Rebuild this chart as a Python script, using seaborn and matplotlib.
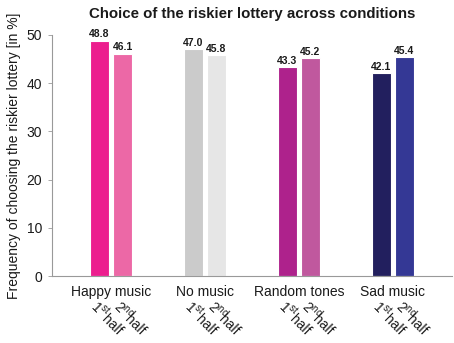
import matplotlib
matplotlib.use('Agg')
import matplotlib.pyplot as plt
import seaborn as sns
import pandas as pd

# data
conditions = ['Happy music', 'No music', 'Random tones', 'Sad music']
halves = ['1st', '2nd']
first_half = [48.8, 47.0, 43.3, 42.1]
second_half = [46.1, 45.8, 45.2, 45.4]
colors_first = ['#EC1E8E', '#CBCBCB', '#AE228C', '#221F5E']
colors_second = ['#EC68A6', '#E6E6E6', '#C0589E', '#343895']
half_labels = [('1$^{st}$', 'half'), ('2$^{nd}$', 'half')]

df = pd.DataFrame({
    'condition': conditions * 2,
    'half': [halves[0]] * 4 + [halves[1]] * 4,
    'value': first_half + second_half,
})

sns.set_theme(style='white')
plt.rcParams['font.family'] = ['Liberation Sans', 'DejaVu Sans']
plt.rcParams['mathtext.default'] = 'regular'
for key in ['text.color', 'axes.labelcolor', 'xtick.color', 'ytick.color']:
    plt.rcParams[key] = '#1a1a1a'

fig = plt.figure(figsize=(4.54, 3.43), dpi=100)
ax = fig.add_axes([0.1145, 0.195, 0.881, 0.703])

sns.barplot(data=df, x='condition', y='value', hue='half', order=conditions,
            hue_order=halves, width=0.49, gap=0.16, legend=False,
            edgecolor='white', linewidth=0.8, errorbar=None, ax=ax)

for container, cols in zip(ax.containers, [colors_first, colors_second]):
    for bar, c in zip(container, cols):
        bar.set_facecolor(c)
    ax.bar_label(container, fmt='%.1f', padding=1, fontsize=7.5,
                 fontweight='bold', clip_on=False)

ax.set_xlim(-0.628, 3.628)
ax.set_ylim(0, 50)
ax.set_yticks([0, 10, 20, 30, 40, 50])
ax.tick_params(axis='y', left=True, length=3, width=0.6, color='#999999',
               labelsize=10, pad=4)
ax.tick_params(axis='x', bottom=False, labelsize=10, pad=0.5)
ax.set_xlabel('')
ax.set_ylabel('Frequency of choosing the riskier lottery [in %]', fontsize=10)
for side in ['top', 'right']:
    ax.spines[side].set_visible(False)
for side in ['left', 'bottom']:
    ax.spines[side].set_color('#999999')
    ax.spines[side].set_linewidth(0.8)

# rotated "1st half" / "2nd half" labels under each bar
for container, (top, bottom) in zip(ax.containers, half_labels):
    for bar in container:
        xc = bar.get_x() + bar.get_width() / 2
        ax.annotate(top, xy=(xc, 0), xycoords=('data', 'axes fraction'),
                    xytext=(0.5, -15), textcoords='offset points',
                    rotation=-45, rotation_mode='anchor', ha='left', va='top',
                    fontsize=10, annotation_clip=False)
        ax.annotate(bottom, xy=(xc, 0), xycoords=('data', 'axes fraction'),
                    xytext=(6.5, -26), textcoords='offset points',
                    rotation=-45, rotation_mode='anchor', ha='left', va='top',
                    fontsize=10, annotation_clip=False)

ax.set_title('Choice of the riskier lottery across conditions', fontsize=10.8,
             fontweight='bold', pad=12)

fig.savefig('out.png', dpi=100)
